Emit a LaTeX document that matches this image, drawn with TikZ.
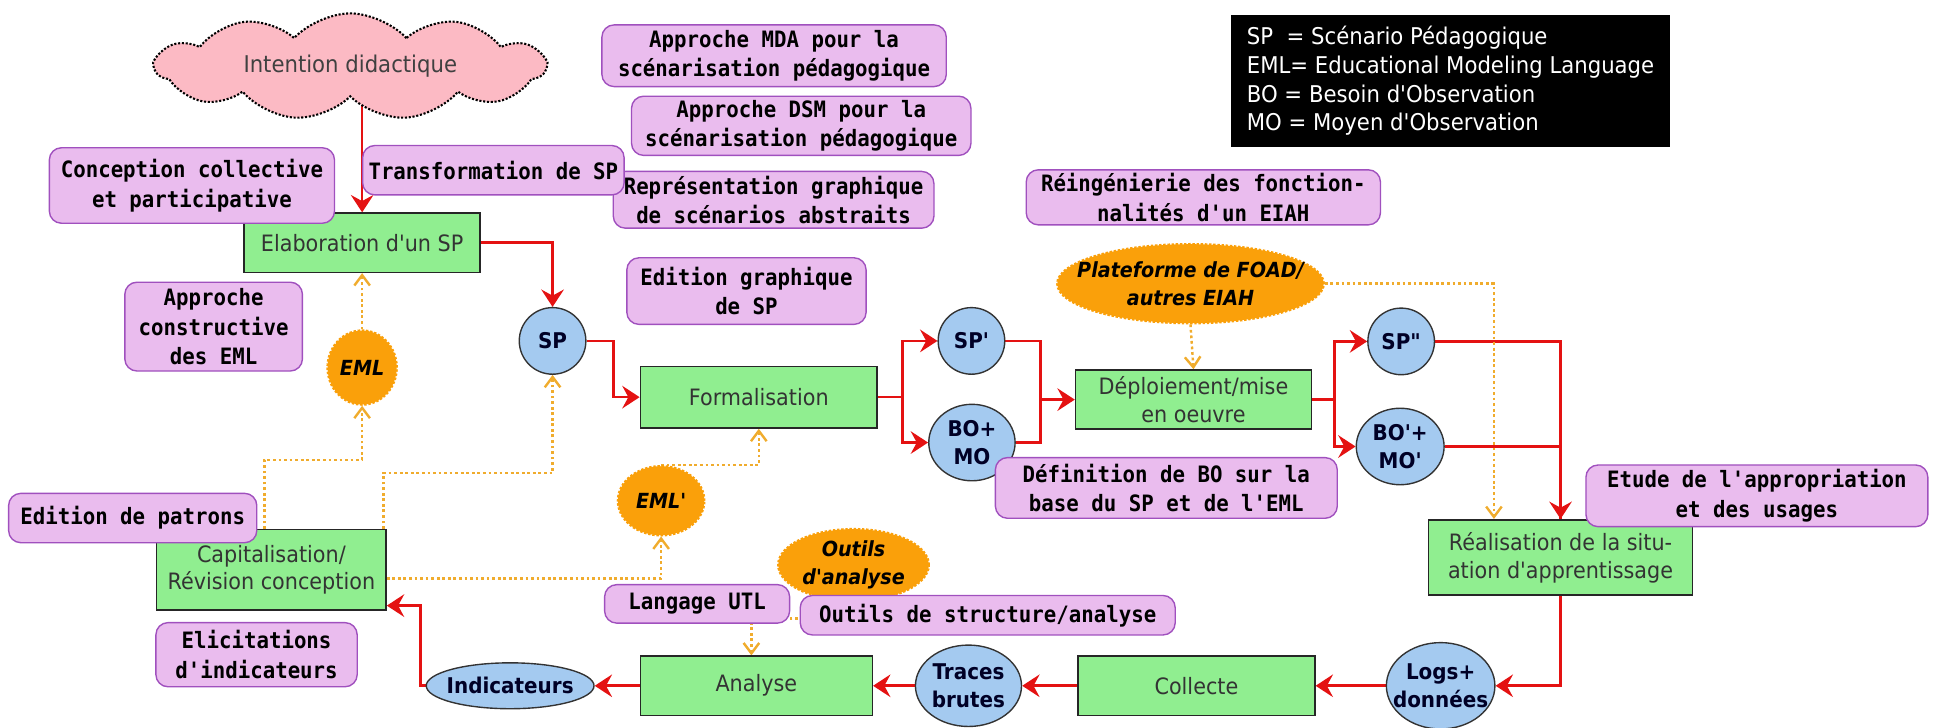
\documentclass[tikz,border=0pt]{standalone}
\usepackage{fontspec}
\newfontfamily\labelfont{DejaVu Sans}[FakeStretch=0.92]
\setmonofont{DejaVu Sans Mono}[FakeStretch=0.92]
\usetikzlibrary{arrows.meta,shapes.geometric,shapes.symbols,backgrounds}

\definecolor{procgreen}{RGB}{144,238,144}
\definecolor{notefill}{RGB}{234,188,238}
\definecolor{noteline}{RGB}{160,80,190}
\definecolor{datablue}{RGB}{164,202,240}
\definecolor{toolorange}{RGB}{250,160,10}
\definecolor{flowred}{RGB}{228,18,18}
\definecolor{usesorange}{RGB}{240,172,45}
\definecolor{cloudpink}{RGB}{252,186,196}

\tikzset{
  proc/.style={draw=black!85,line width=0.9pt,fill=procgreen,align=center,inner ysep=2pt,
    text=black!80,font=\labelfont\fontsize{13}{16}\selectfont},
  note/.style={draw=noteline,line width=0.8pt,fill=notefill,rounded corners=7pt,align=center,
    inner ysep=2pt,font=\ttfamily\bfseries\fontsize{13}{17}\selectfont},
  datum/.style={ellipse,draw=black!80,line width=0.8pt,fill=datablue,align=center,inner sep=0pt,
    text=black!85!blue,font=\labelfont\bfseries\fontsize{12.5}{16}\selectfont},
  tool/.style={ellipse,draw=toolorange,densely dotted,line width=1.4pt,fill=toolorange,align=center,
    inner sep=0pt,font=\labelfont\bfseries\itshape\fontsize{12}{16}\selectfont},
  flowline/.style={draw=flowred,line width=1.5pt},
  flow/.style={flowline,-{Stealth[length=10pt,width=13pt,inset=3.5pt]}},
  uses/.style={draw=usesorange,line width=1.4pt,dash pattern=on 1.6pt off 1.6pt,
    -{Straight Barb[length=6pt,width=9pt]}},
}

\begin{document}
\begin{tikzpicture}
\useasboundingbox (0,0) rectangle (39.2,14.75);
%\draw[step=1cm,lightgray,very thin] (0,0) grid (39.2,14.75);

\node[cloud,cloud puffs=11,cloud puff arc=95,aspect=4.2,draw=black,densely dotted,line width=1.2pt,
  fill=cloudpink,minimum width=7.9cm,minimum height=1.75cm,inner sep=0pt,text=black!75,
  font=\labelfont\fontsize{13.3}{16}\selectfont] (intention) at (7.1,13.4) {Intention didactique};

\node[fill=black,text=white,align=left,minimum width=8.9cm,minimum height=2.68cm,
  font=\labelfont\fontsize{13.3}{16.5}\selectfont] (legend) at (29.4,13.11)
  {SP\ \ = Scénario Pédagogique\\EML= Educational Modeling Language\\BO = Besoin d'Observation\\MO = Moyen d'Observation};

% etapes
\node[proc,minimum width=4.78cm,minimum height=1.2cm] (elab) at (7.34,9.83) {Elaboration d'un SP};
\node[proc,minimum width=4.8cm,minimum height=1.25cm] (formal) at (15.38,6.7) {Formalisation};
\node[proc,minimum width=4.78cm,minimum height=1.2cm] (deploi) at (24.19,6.65) {Déploiement/mise\\en oeuvre};
\node[proc,minimum width=5.35cm,minimum height=1.53cm] (realis) at (31.63,3.45) {Réalisation de la situ-\\ation d'apprentissage};
\node[proc,minimum width=4.65cm,minimum height=1.63cm] (capita) at (5.5,3.2) {Capitalisation/\\Révision conception};
\node[proc,minimum width=4.7cm,minimum height=1.2cm] (analyse) at (15.33,0.85) {Analyse};
\node[proc,minimum width=4.8cm,minimum height=1.2cm] (collecte) at (24.25,0.85) {Collecte};

% productions
\node[datum,minimum width=1.35cm,minimum height=1.35cm] (sp) at (11.2,7.84) {SP};
\node[datum,minimum width=1.35cm,minimum height=1.35cm] (spp) at (19.69,7.84) {SP'};
\node[datum,minimum width=1.75cm,minimum height=1.55cm] (bomo) at (19.7,5.78) {BO+\\MO};
\node[datum,minimum width=1.35cm,minimum height=1.35cm] (sppp) at (28.4,7.83) {SP"};
\node[datum,minimum width=1.78cm,minimum height=1.55cm] (bomop) at (28.38,5.7) {BO'+\\MO'};
\node[datum,inner xsep=-0.2cm,minimum width=2.2cm,minimum height=1.75cm] (logs) at (29.2,0.85) {Logs+\\données};
\node[datum,minimum width=2.15cm,minimum height=1.65cm] (traces) at (19.63,0.85) {Traces\\brutes};
\node[datum,inner xsep=-0.1cm,minimum width=3.4cm,minimum height=0.93cm] (indic) at (10.34,0.85) {Indicateurs};

% outils
\node[tool,minimum width=1.4cm,minimum height=1.5cm] (eml) at (7.34,7.3) {EML};
\node[tool,minimum width=1.75cm,minimum height=1.4cm] (emlp) at (13.4,4.6) {EML'};
\node[tool,minimum width=3.05cm,minimum height=1.45cm] (outils) at (17.3,3.3) {Outils\\d'analyse};
\node[tool,inner xsep=-0.4cm,minimum width=5.4cm,minimum height=1.6cm] (plateforme) at (24.13,9.0) {Plateforme de FOAD/\\autres EIAH};

% travaux
\node[note,minimum width=6.98cm,minimum height=1.25cm] (mda) at (15.69,13.62) {Approche MDA pour la\\scénarisation pédagogique};
\node[note,minimum width=6.88cm,minimum height=1.2cm] (dsm) at (16.24,12.2) {Approche DSM pour la\\scénarisation pédagogique};
\node[note,minimum width=6.5cm,minimum height=1.15cm] (graphabs) at (15.68,10.7) {Représentation graphique\\de scénarios abstraits};
\node[note,minimum width=5.3cm,minimum height=1.0cm] (transfo) at (10.0,11.3) {Transformation de SP};
\node[note,minimum width=5.78cm,minimum height=1.53cm] (collective) at (3.89,10.99) {Conception collective\\et participative};
\node[note,minimum width=7.18cm,minimum height=1.05cm] (reing) at (24.39,10.75) {Réingénierie des fonction-\\nalités d'un EIAH};
\node[note,minimum width=3.6cm,minimum height=1.8cm] (constructive) at (4.33,8.13) {Approche\\constructive\\des EML};
\node[note,minimum width=4.85cm,minimum height=1.35cm] (editgraph) at (15.13,8.85) {Edition graphique\\de SP};
\node[note,minimum width=6.93cm,minimum height=1.23cm] (defbo) at (23.64,4.86) {Définition de BO sur la\\base du SP et de l'EML};
\node[note,minimum width=6.93cm,minimum height=1.25cm] (etude) at (35.61,4.7) {Etude de l'appropriation\\et des usages};
\node[note,minimum width=5.03cm,minimum height=1.0cm] (patrons) at (2.69,4.25) {Edition de patrons};
\node[note,minimum width=4.08cm,minimum height=1.3cm] (elicit) at (5.2,1.48) {Elicitations\\d'indicateurs};
\node[note,minimum width=3.75cm,minimum height=0.78cm] (utl) at (14.13,2.51) {Langage UTL};
\node[note,minimum width=7.6cm,minimum height=0.8cm] (ostruct) at (20.02,2.28) {Outils de structure/analyse};

\begin{scope}[on background layer]
\draw[flow] (intention.south -| elab.north) -- (elab.north);
\draw[flow] (elab.east) -| (sp.north);
\draw[flow] (sp.east) -- ++(0.55,0) |- (formal.west);
\draw[flow] (formal.east) -- ++(0.5,0) coordinate (fsplit) |- (spp.west);
\draw[flow] (fsplit) |- (bomo.west);
\coordinate (djoin) at ([xshift=-0.7cm]deploi.west);
\draw[flow] (spp.east) -| (djoin) -- (deploi.west);
\draw[flowline] (bomo.east) -| (djoin);
\draw[flow] (deploi.east) -- ++(0.45,0) coordinate (dsplit) |- (sppp.west);
\draw[flow] (dsplit) |- (bomop.west);
\draw[flow] (sppp.east) -| (realis.north);
\draw[flowline] (bomop.east) -| (realis.north);
\draw[flow] (realis.south) |- (logs.east);
\draw[flow] (logs.west) -- (collecte.east);
\draw[flow] (collecte.west) -- (traces.east);
\draw[flow] (traces.west) -- (analyse.east);
\draw[flow] (analyse.west) -- (indic.east);
\draw[flow] (indic.west) -- ++(-0.1,0) |- ([yshift=3pt]capita.south east);

\draw[uses] (eml.north) -- (elab.south);
\draw[uses] ([xshift=-4pt]capita.north) -- ++(0,1.4) -| (eml.south);
\draw[uses] ([xshift=-2pt]capita.north east) -- ++(0,1.13) -| (sp.south);
\draw[uses] ([yshift=-5pt]capita.east) -| (emlp.south);
\draw[uses] (emlp.north) -| (formal.south);
\draw[uses] (plateforme.south) -- (deploi.north);
\draw[uses] (plateforme.east) -| ([xshift=-1.35cm]realis.north);
\draw[uses] (outils.south) |- ([xshift=-0.1cm,yshift=0.75cm]analyse.north) -- ([xshift=-0.1cm]analyse.north);
\end{scope}

\end{tikzpicture}
\end{document}
